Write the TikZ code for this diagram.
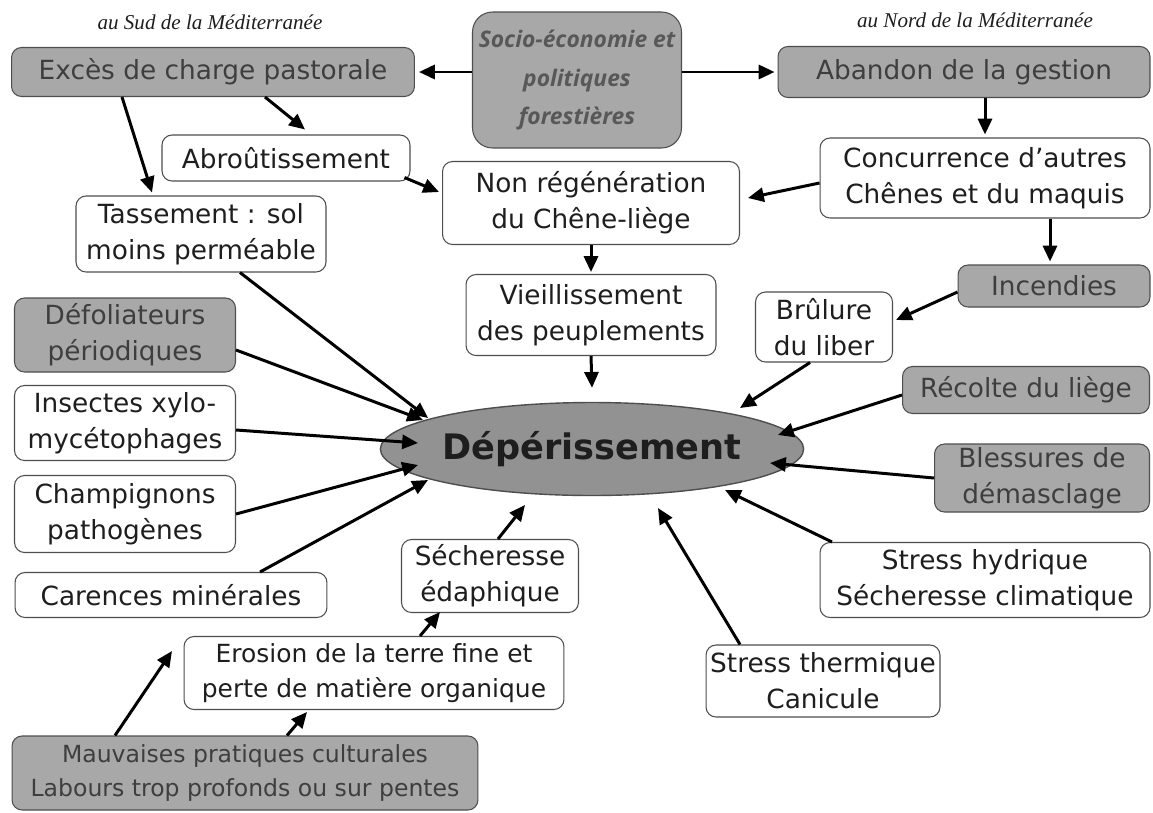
\documentclass[tikz,border=0pt]{standalone}
\usepackage{fontspec}
\setmainfont{DejaVu Sans}
\newfontfamily\regionfont{Liberation Serif}
\newfontfamily\sociofont{Open Sans}
\usepackage{tikz}
\usetikzlibrary{arrows.meta, calc, shapes.geometric}
\definecolor{boxgrey}{RGB}{168,168,168}
\definecolor{ellgrey}{RGB}{146,146,146}
\definecolor{boxline}{RGB}{78,78,78}
\definecolor{greytext}{RGB}{62,62,62}
\definecolor{sociotext}{RGB}{88,88,88}
\definecolor{darktext}{RGB}{30,30,30}

\begin{document}
\begin{tikzpicture}[x=0.02cm, y=-0.02cm,
    arr/.style={-{Triangle[length=9pt, width=8pt]}, line width=1.7pt, draw=black},
    box/.style={draw=boxline, line width=0.6pt, rounded corners=0.2cm, align=center,
      inner sep=0pt, font=\fontsize{15}{20.5}\selectfont},
    greybox/.style={box, fill=boxgrey, text=greytext},
    whitebox/.style={box, fill=white, text=darktext},
    region/.style={font=\regionfont\itshape\fontsize{12}{14}\selectfont, text=darktext}]
  \useasboundingbox[fill=white] (0,0) rectangle (1153,812);

  \node[region] (sud) at (210,22) {au Sud de la Méditerranée};
  \node[region] (nord) at (975,20) {au Nord de la Méditerranée};

  \node[greybox, rounded corners=0.4cm, minimum width=4.18cm, minimum height=2.72cm,
    text=sociotext, font=\sociofont\bfseries\itshape\fontsize{13}{22}\selectfont]
    (socio) at (577,80) {Socio-économie et\\politiques\\forestières};
  \node[greybox, minimum width=8.06cm, minimum height=0.98cm] (exces) at (213,72) {Excès de charge pastorale};
  \node[greybox, minimum width=7.44cm, minimum height=1.02cm] (abandon) at (964,72) {Abandon de la gestion};
  \node[whitebox, minimum width=4.96cm, minimum height=0.92cm] (abrou) at (286,158) {Abroûtissement};
  \node[whitebox, minimum width=5.94cm, minimum height=1.66cm] (nonreg) at (591,203) {Non régénération\\du Chêne-liège};
  \node[whitebox, minimum width=6.6cm, minimum height=1.6cm] (concur) at (985,178) {Concurrence d'autres\\Chênes et du maquis};
  \node[whitebox, minimum width=5.0cm, minimum height=1.52cm] (tass) at (201,234) {Tassement : sol\\moins perméable};
  \node[whitebox, minimum width=5.0cm, minimum height=1.62cm] (vieil) at (591,315) {Vieillissement\\des peuplements};
  \node[greybox, minimum width=3.84cm, minimum height=0.84cm] (incend) at (1054,286) {Incendies};
  \node[whitebox, minimum width=2.74cm, minimum height=1.4cm] (brul) at (824,327) {Brûlure\\du liber};
  \node[greybox, minimum width=4.42cm, minimum height=1.48cm] (defol) at (125,335) {Défoliateurs\\périodiques};
  \node[greybox, minimum width=4.94cm, minimum height=0.94cm] (recolte) at (1026,390) {Récolte du liège};
  \node[ellipse, draw=boxline, line width=0.8pt, fill=ellgrey, minimum width=6.98cm, minimum height=1.86cm,
    inner sep=0pt, text=darktext, font=\bfseries\fontsize{20}{24}\selectfont] (dep) at (592,449) {Dépérissement};
  \node[whitebox, minimum width=4.42cm, minimum height=1.5cm] (insect) at (125,423) {Insectes xylo-\\mycétophages};
  \node[greybox, minimum width=4.3cm, minimum height=1.36cm] (bless) at (1042,478) {Blessures de\\démasclage};
  \node[whitebox, minimum width=4.42cm, minimum height=1.54cm] (champ) at (125,514) {Champignons\\pathogènes};
  \node[whitebox, minimum width=6.6cm, minimum height=1.5cm] (hydr) at (985,580) {Stress hydrique\\Sécheresse climatique};
  \node[whitebox, minimum width=3.54cm, minimum height=1.46cm] (sech) at (490,576) {Sécheresse\\édaphique};
  \node[whitebox, minimum width=6.24cm, minimum height=0.9cm] (caren) at (171,595) {Carences minérales};
  \node[whitebox, minimum width=7.6cm, minimum height=1.46cm, font=\fontsize{14.2}{20}\selectfont]
    (eros) at (374,673) {Erosion de la terre fine et\\perte de matière organique};
  \node[whitebox, minimum width=4.68cm, minimum height=1.44cm] (therm) at (823,681) {Stress thermique\\Canicule};
  \node[greybox, minimum width=9.32cm, minimum height=1.48cm, font=\fontsize{13.4}{19.5}\selectfont]
    (mauv) at (245,773) {Mauvaises pratiques culturales\\Labours trop profonds ou sur pentes};

  \draw[arr] (socio.west |- exces.east) -- ($(exces.east)+(4,0)$);
  \draw[arr] (socio.east |- abandon.west) -- ($(abandon.west)+(-3,0)$);
  \draw[arr] (concur.north |- abandon.south) -- ($(concur.north)+(0,-3)$);
  \draw[arr] ($(exces.south)+(52,0)$) -- ($(abrou.north)+(19,-5)$);
  \draw[arr] ($(exces.south)+(-91,0)$) -- ($(tass.north)+(-49,-3)$);
  \draw[arr] ($(abrou.south east)+(-6,-4)$) -- ($(nonreg.west)+(-3,-11)$);
  \draw[arr] ($(concur.west)+(0,5)$) -- ($(nonreg.east)+(8,-5)$);
  \draw[arr] (nonreg.south) -- ($(vieil.north)+(0,-2)$);
  \draw[arr] ($(concur.south)+(65,0)$) -- ($(incend.north)+(-4,-3)$);
  \draw[arr] ($(incend.west)+(0,6)$) -- ($(brul.east)+(3,-7)$);
  \draw[arr] ($(tass.south)+(39,0)$) -- ($(dep)+(-164,-31)$);
  \draw[arr] ($(defol.east)+(0,15)$) -- ($(dep)+(-169,-29)$);
  \draw[arr] (vieil.south) -- ($(dep.north)+(0,-14)$);
  \draw[arr] ($(brul.south)+(-14,0)$) -- ($(dep)+(148,-41)$);
  \draw[arr] ($(recolte.west)+(0,5)$) -- ($(dep)+(186,-14)$);
  \draw[arr] ($(insect.east)+(0,7)$) -- ($(dep)+(-174,-6)$);
  \draw[arr] (bless.west) -- ($(dep)+(178,14)$);
  \draw[arr] (champ.east) -- ($(dep)+(-174,16)$);
  \draw[arr] ($(hydr.north)+(-153,0)$) -- ($(dep)+(133,41)$);
  \draw[arr] ($(caren.north)+(89,0)$) -- ($(dep)+(-164,31)$);
  \draw[arr] ($(sech.north)+(8,0)$) -- ($(dep)+(-67,56)$);
  \draw[arr] ($(therm.north)+(-83,0)$) -- ($(dep)+(66,59)$);
  \draw[arr] ($(eros.north)+(46,0)$) -- ($(sech.south)+(-50,-1)$);
  \draw[arr] ($(mauv.north)+(-130,0)$) -- ($(caren.south)+(1,33)$);
  \draw[arr] ($(mauv.north)+(42,0)$) -- ($(eros.south)+(-67,2)$);
\end{tikzpicture}
\end{document}
